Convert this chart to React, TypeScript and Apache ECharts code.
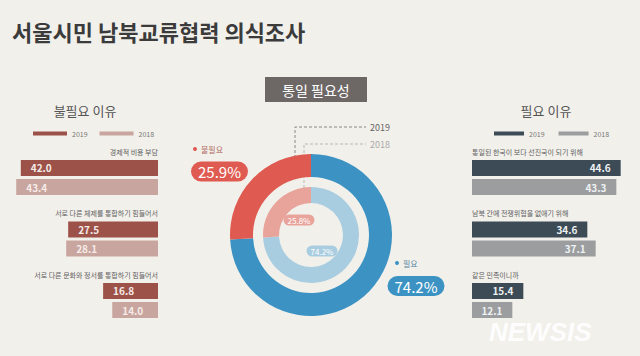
import React, { useEffect, useRef } from "react";
import * as echarts from "echarts";

const TITLE = "서울시민 남북교류협력 의식조사";
const CENTER_TITLE = "통일 필요성";
const YEARS = ["2019", "2018"];

const unneededTitle = "불필요 이유";
const unneededCats = [
  "경제적 비용 부담",
  "서로 다른 체제를 통합하기 힘들어서",
  "서로 다른 문화와 정서를 통합하기 힘들어서",
];
const unneeded2019 = [42.0, 27.5, 16.8];
const unneeded2018 = [43.4, 28.1, 14.0];

const neededTitle = "필요 이유";
const neededCats = [
  "통일된 한국이 보다 선진국이 되기 위해",
  "남북 간에 전쟁위협을 없애기 위해",
  "같은 민족이니까",
];
const needed2019 = [44.6, 34.6, 15.4];
const needed2018 = [43.3, 37.1, 12.1];

const pieNames = ["필요", "불필요"];
const pie2019 = [74.2, 25.9];
const pie2018 = [74.2, 25.8];

const FONT = "'Noto Sans CJK KR', 'Noto Sans', sans-serif";

export default function App() {
  const ref = useRef<HTMLDivElement>(null);
  useEffect(() => {
    if (!ref.current) return;
    const chart = echarts.init(ref.current, undefined, { renderer: "svg" });

    const gridTop = 146.75;
    const gridH = 184.5;
    const band = gridH / 3;
    const catY = (i: number) => gridTop + band * (i + 0.5) - 26;

    const barLabel = (color: string, pos: string) => ({
      show: true,
      position: pos,
      distance: 10,
      color,
      fontSize: 10,
      fontWeight: "bold",
      fontFamily: FONT,
      formatter: (p: any) => Number(p.value).toFixed(1),
    });

    const catTexts: any[] = [];
    unneededCats.forEach((c, i) =>
      catTexts.push({
        type: "text",
        style: { text: c, x: 158, y: catY(i), fill: "#5f5f5f", fontSize: 7, fontFamily: FONT, align: "right", verticalAlign: "middle" },
      })
    );
    neededCats.forEach((c, i) =>
      catTexts.push({
        type: "text",
        style: { text: c, x: 472, y: catY(i), fill: "#5f5f5f", fontSize: 7, fontFamily: FONT, align: "left", verticalAlign: "middle" },
      })
    );

    const cx = 311, cy = 235;
    const outerColors = ["#3c93c3", "#df5b51"];
    const innerColors = ["#a9cde0", "#e8a39b"];

    const outerPillPos = [
      { x: 416, y: 286 },
      { x: 219.5, y: 171.5 },
    ];
    const innerPillPos = [
      { x: 322, y: 251 },
      { x: 299, y: 220 },
    ];

    const option: any = {
      animation: false,
      backgroundColor: "#f2f0eb",
      textStyle: { fontFamily: FONT },
      legend: [
        {
          data: ["불필요 2019", "불필요 2018"],
          left: 28, top: 125, itemWidth: 34, itemHeight: 4, itemGap: 12, icon: "rect",
          formatter: (n: string) => n.split(" ")[1],
          textStyle: { fontSize: 7, color: "#777", fontFamily: FONT },
          selectedMode: false,
        },
        {
          data: ["필요 2019", "필요 2018"],
          left: 489, top: 125, itemWidth: 30, itemHeight: 4, itemGap: 14, icon: "rect",
          formatter: (n: string) => n.split(" ")[1],
          textStyle: { fontSize: 7, color: "#777", fontFamily: FONT },
          selectedMode: false,
        },
      ],
      grid: [
        { left: 11, width: 147, top: gridTop, height: gridH },
        { left: 472, width: 150, top: gridTop, height: gridH },
      ],
      xAxis: [
        { gridIndex: 0, type: "value", min: 0, max: 45, inverse: true, show: false },
        { gridIndex: 1, type: "value", min: 0, max: 45, show: false },
      ],
      yAxis: [
        { gridIndex: 0, type: "category", data: unneededCats, inverse: true, show: false },
        { gridIndex: 1, type: "category", data: neededCats, inverse: true, show: false },
      ],
      series: [
        {
          type: "bar", name: "불필요 2019", xAxisIndex: 0, yAxisIndex: 0, data: unneeded2019,
          barWidth: 16, barGap: "19%", itemStyle: { color: "#9c5249" },
          label: barLabel("#f6ebe8", "insideLeft"),
        },
        {
          type: "bar", name: "불필요 2018", xAxisIndex: 0, yAxisIndex: 0, data: unneeded2018,
          barWidth: 16, barGap: "19%", itemStyle: { color: "#c8a59e" },
          label: barLabel("#f6ebe8", "insideLeft"),
        },
        {
          type: "bar", name: "필요 2019", xAxisIndex: 1, yAxisIndex: 1, data: needed2019,
          barWidth: 16, barGap: "19%", itemStyle: { color: "#3c4b56" },
          label: barLabel("#eef1f3", "insideRight"),
        },
        {
          type: "bar", name: "필요 2018", xAxisIndex: 1, yAxisIndex: 1, data: needed2018,
          barWidth: 16, barGap: "19%", itemStyle: { color: "#9b9d9f" },
          label: barLabel("#eef1f3", "insideRight"),
        },
        {
          type: "pie", name: YEARS[0], center: [cx, cy], radius: [58, 81], startAngle: 90, clockwise: true,
          silent: true,
          data: pieNames.map((n, i) => ({ name: n, value: pie2019[i], itemStyle: { color: outerColors[i] } })),
          labelLine: { show: false },
          label: {
            show: true, position: "outside", fontSize: 15, color: "#fff", fontFamily: FONT,
            padding: [3, 7, 2, 7], borderRadius: 11,
            backgroundColor: "inherit",
            formatter: (p: any) => `${Number(p.value).toFixed(1)}%`,
          },
          labelLayout: (p: any) => ({ x: outerPillPos[p.dataIndex].x, y: outerPillPos[p.dataIndex].y, align: "center", verticalAlign: "middle" }),
        },
        {
          type: "pie", name: YEARS[1], center: [cx, cy], radius: [32, 48], startAngle: 90, clockwise: true,
          silent: true,
          data: pieNames.map((n, i) => ({ name: n, value: pie2018[i], itemStyle: { color: innerColors[i] } })),
          labelLine: { show: false },
          label: {
            show: true, position: "outside", fontSize: 8, color: "#fff", fontFamily: FONT,
            padding: [2, 4, 1, 4], borderRadius: 6,
            backgroundColor: "inherit",
            formatter: (p: any) => `${Number(p.value).toFixed(1)}%`,
          },
          labelLayout: (p: any) => ({ x: innerPillPos[p.dataIndex].x, y: innerPillPos[p.dataIndex].y, align: "center", verticalAlign: "middle" }),
        },
      ],
      graphic: [
        {
          type: "text",
          style: { text: TITLE, x: 12, y: 31, fill: "#3b3b3b", fontSize: 22, fontWeight: "bold", fontFamily: FONT, verticalAlign: "middle" },
        },
        { type: "rect", shape: { x: 265, y: 77, width: 102, height: 25 }, style: { fill: "#6d6866" } },
        {
          type: "text",
          style: { text: CENTER_TITLE, x: 316, y: 89.5, fill: "#fff", fontSize: 14, fontFamily: FONT, align: "center", verticalAlign: "middle" },
        },
        {
          type: "text",
          style: { text: unneededTitle, x: 85, y: 110, fill: "#555", fontSize: 13, fontFamily: FONT, align: "center", verticalAlign: "middle" },
        },
        {
          type: "text",
          style: { text: neededTitle, x: 546, y: 110, fill: "#555", fontSize: 13, fontFamily: FONT, align: "center", verticalAlign: "middle" },
        },
        ...catTexts,
        {
          type: "polyline", shape: { points: [[295, 158], [295, 127], [366, 127]] },
          style: { stroke: "#888", lineWidth: 1, lineDash: [3, 2], fill: null },
        },
        {
          type: "polyline", shape: { points: [[304, 188], [304, 144], [366, 144]] },
          style: { stroke: "#b8b8b8", lineWidth: 1, lineDash: [3, 2], fill: null },
        },
        {
          type: "text",
          style: { text: YEARS[0], x: 370, y: 127, fill: "#666", fontSize: 9, fontFamily: FONT, verticalAlign: "middle" },
        },
        {
          type: "text",
          style: { text: YEARS[1], x: 370, y: 144, fill: "#aaa", fontSize: 9, fontFamily: FONT, verticalAlign: "middle" },
        },
        { type: "circle", shape: { cx: 195, cy: 149, r: 2 }, style: { fill: outerColors[1] } },
        {
          type: "text",
          style: { text: pieNames[1], x: 201, y: 149, fill: "#b06a62", fontSize: 8, fontFamily: FONT, verticalAlign: "middle" },
        },
        { type: "circle", shape: { cx: 397, cy: 263, r: 2 }, style: { fill: outerColors[0] } },
        {
          type: "text",
          style: { text: pieNames[0], x: 403, y: 263, fill: "#5a88a3", fontSize: 8, fontFamily: FONT, verticalAlign: "middle" },
        },
        {
          type: "text", z: 100,
          style: { text: "NEWSIS", x: 489, y: 332, fill: "rgba(255,255,255,0.92)", fontSize: 26, fontWeight: "bold", fontStyle: "italic", fontFamily: "'Liberation Sans', Arial, sans-serif", verticalAlign: "middle" },
        },
      ],
    };

    chart.setOption(option);
    return () => chart.dispose();
  }, []);

  return <div ref={ref} style={{ position: "fixed", left: 0, top: 0, width: 640, height: 356 }} />;
}
